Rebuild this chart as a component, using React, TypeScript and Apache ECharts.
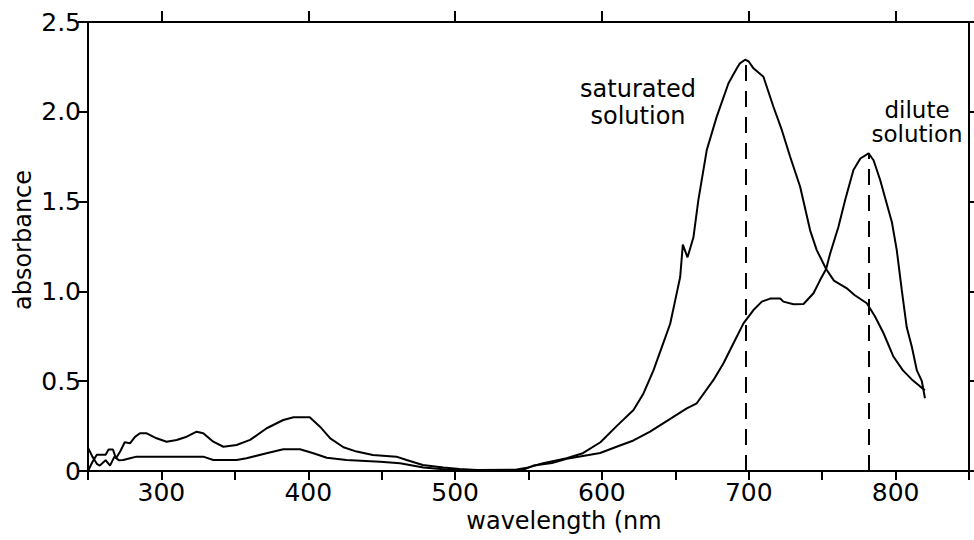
import React, { useEffect, useRef } from "react";
import * as echarts from "echarts";

const satWl = [250, 253, 256, 259, 262, 264, 267, 269, 272, 275, 278.6, 282, 285.4, 290, 296.7, 303.5, 310.4, 317.2, 324, 328.5, 335.3, 342.2, 351.2, 360.4, 371.7, 383, 390, 401, 408, 415, 424, 433, 444, 460, 467, 478, 492, 503, 515, 542, 550, 560, 576, 587, 599, 610, 621.5, 628.3, 635.1, 640.8, 646.5, 649.9, 653.3, 655.1, 658.3, 662.3, 665.7, 671.4, 678.2, 686.2, 691.9, 694, 697.5, 700, 703.2, 710, 716.8, 722.5, 728.2, 735, 741.8, 746.3, 752.7, 758, 766.8, 772, 780.4, 786, 791.8, 798.6, 805, 811, 816.8, 820];
const satAbs = [0.0, 0.05, 0.09, 0.09, 0.09, 0.12, 0.12, 0.07, 0.11, 0.16, 0.154, 0.19, 0.21, 0.21, 0.182, 0.163, 0.173, 0.191, 0.219, 0.21, 0.163, 0.135, 0.145, 0.173, 0.238, 0.284, 0.299, 0.299, 0.247, 0.182, 0.132, 0.108, 0.089, 0.08, 0.061, 0.033, 0.02, 0.011, 0.005, 0.008, 0.02, 0.043, 0.071, 0.099, 0.16, 0.25, 0.34, 0.432, 0.56, 0.69, 0.82, 0.95, 1.08, 1.26, 1.19, 1.3, 1.51, 1.787, 1.973, 2.159, 2.242, 2.27, 2.29, 2.28, 2.242, 2.195, 2.028, 1.899, 1.75, 1.583, 1.34, 1.23, 1.125, 1.06, 1.017, 0.98, 0.934, 0.86, 0.767, 0.636, 0.56, 0.51, 0.47, 0.45];

const dilWl = [250, 253, 256, 258, 262, 265, 268, 271, 274, 278, 283, 292, 328.5, 335.3, 351.2, 358, 371.6, 383, 394.4, 403.5, 412.6, 426, 449, 462.5, 478.4, 494, 505, 545, 553.4, 566, 576, 588, 598.8, 610, 621.5, 632.8, 646.5, 657.8, 664.6, 676, 682.8, 689.6, 696.4, 703.2, 708.9, 714.6, 721.4, 723.6, 730.5, 737.3, 744.1, 748.6, 752.7, 755.4, 761.1, 765.7, 771.3, 776, 781.6, 785, 789.5, 797.5, 800.8, 804.2, 807.6, 811.1, 814.5, 817.9, 820];
const dilAbs = [0.13, 0.08, 0.04, 0.03, 0.06, 0.03, 0.08, 0.06, 0.061, 0.07, 0.08, 0.08, 0.08, 0.061, 0.061, 0.071, 0.099, 0.121, 0.121, 0.099, 0.074, 0.061, 0.052, 0.043, 0.02, 0.009, 0.003, 0.003, 0.03, 0.045, 0.068, 0.085, 0.1, 0.135, 0.17, 0.219, 0.29, 0.349, 0.377, 0.507, 0.6, 0.711, 0.822, 0.896, 0.943, 0.96, 0.96, 0.943, 0.928, 0.93, 0.99, 1.063, 1.125, 1.21, 1.36, 1.51, 1.676, 1.74, 1.769, 1.73, 1.62, 1.385, 1.23, 1.008, 0.8, 0.69, 0.56, 0.5, 0.405];

const satPeak = [698, 2.29];
const dilPeak = [782, 1.77];

const xLabels = [300, 400, 500, 600, 700, 800];
const yLabels = ["0", "0.5", "1.0", "1.5", "2.0", "2.5"];

const FONT = "'DejaVu Sans', Verdana, sans-serif";

export default function App() {
  const ref = useRef<HTMLDivElement>(null);
  useEffect(() => {
    if (!ref.current) return;
    const chart = echarts.init(ref.current, null, { renderer: "svg" });
    const black = "#000";
    const axisLine = { show: true, onZero: false, lineStyle: { color: black, width: 2 } };
    chart.setOption({
      animation: false,
      backgroundColor: "#fff",
      grid: { left: 88, right: 5, top: 22, bottom: 69, containLabel: false },
      xAxis: [
        {
          type: "value",
          position: "bottom",
          min: 250,
          max: 850,
          interval: 50,
          axisLine,
          splitLine: { show: false },
          axisTick: { show: true, inside: false, length: 9, lineStyle: { color: black, width: 2 } },
          axisLabel: {
            margin: 9,
            color: black,
            fontFamily: FONT,
            fontSize: 25,
            formatter: (v: number) => (xLabels.indexOf(v) >= 0 ? String(v) : ""),
          },
        },
        {
          type: "value",
          position: "top",
          min: 250,
          max: 850,
          interval: 50,
          axisLine,
          splitLine: { show: false },
          axisTick: { show: true, inside: false, length: 11, customValues: xLabels, lineStyle: { color: black, width: 2 } },
          axisLabel: { show: false },
        },
      ],
      yAxis: [
        {
          type: "value",
          position: "left",
          min: 0,
          max: 2.5,
          interval: 0.5,
          axisLine,
          splitLine: { show: false },
          axisTick: { show: true, inside: false, length: 10, lineStyle: { color: black, width: 2 } },
          axisLabel: {
            margin: 7,
            color: black,
            fontFamily: FONT,
            fontSize: 25,
            formatter: (v: number) => yLabels[Math.round(v / 0.5)] ?? "",
          },
        },
        {
          type: "value",
          position: "right",
          min: 0,
          max: 2.5,
          interval: 0.5,
          axisLine,
          splitLine: { show: false },
          axisTick: { show: true, inside: false, length: 8, lineStyle: { color: black, width: 2 } },
          axisLabel: { show: false },
        },
      ],
      series: [
        {
          name: "saturated solution",
          type: "line",
          data: satWl.map((w, i) => [w, satAbs[i]]),
          showSymbol: false,
          symbol: "none",
          lineStyle: { color: black, width: 2 },
          markLine: {
            silent: true,
            symbol: "none",
            label: { show: false },
            lineStyle: { color: black, width: 2, type: [16, 10] },
            data: [[{ coord: [satPeak[0], 0] }, { coord: satPeak }]],
          },
        },
        {
          name: "dilute solution",
          type: "line",
          data: dilWl.map((w, i) => [w, dilAbs[i]]),
          showSymbol: false,
          symbol: "none",
          lineStyle: { color: black, width: 2 },
          markLine: {
            silent: true,
            symbol: "none",
            label: { show: false },
            lineStyle: { color: black, width: 2, type: [16, 10] },
            data: [[{ coord: [dilPeak[0], 0] }, { coord: dilPeak }]],
          },
        },
      ],
      graphic: [
        {
          type: "text",
          x: 564,
          y: 521,
          style: { text: "wavelength (nm", font: `24px ${FONT}`, fill: black, textAlign: "center", textVerticalAlign: "middle" },
        },
        {
          type: "text",
          x: 23,
          y: 240,
          rotation: Math.PI / 2,
          style: { text: "absorbance", font: `24px ${FONT}`, fill: black, textAlign: "center", textVerticalAlign: "middle" },
        },
        {
          type: "text",
          x: 638,
          y: 102,
          style: { text: "saturated\nsolution", font: `24px ${FONT}`, lineHeight: 27, fill: black, textAlign: "center", textVerticalAlign: "middle" },
        },
        {
          type: "text",
          x: 917,
          y: 122,
          style: { text: "dilute\nsolution", font: `23px ${FONT}`, lineHeight: 24, fill: black, textAlign: "center", textVerticalAlign: "middle" },
        },
      ],
    });
    return () => chart.dispose();
  }, []);
  return (
    <div
      ref={ref}
      style={{ position: "fixed", left: 0, top: 0, width: 974, height: 540, background: "#fff" }}
    />
  );
}
